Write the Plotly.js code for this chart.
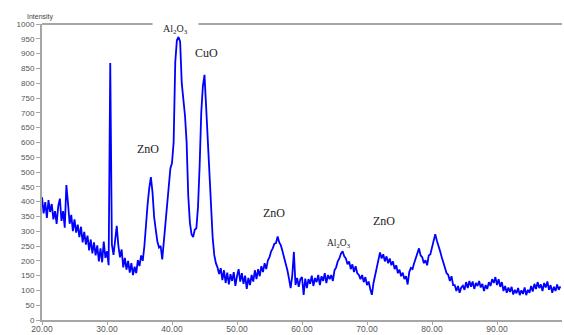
<!DOCTYPE html>
<html>
<head>
<meta charset="utf-8">
<script src="https://cdn.plot.ly/plotly-3.0.1.min.js"></script>
<style>html,body{margin:0;padding:0;background:#fff;}#chart{width:564px;height:335px;}</style>
</head>
<body>
<div id="chart"></div>
<script>
// 2-theta scan definition (degrees)
const twoThetaStart = 20.0;
const twoThetaStep = 0.25;

// Intensity, one row per 5 degrees (20 steps of 0.25)
const intensity = [
  // 20.00 - 24.75
  415, 360, 398, 345, 405, 365, 392, 340, 368, 325, 385, 410, 335, 368, 312, 456, 395, 325, 355, 300,
  // 25.00 - 29.75
  340, 295, 322, 280, 315, 262, 298, 255, 285, 235, 272, 225, 262, 218, 252, 198, 242, 195, 265, 210,
  // 30.00 - 34.75
  232, 185, 868, 255, 220, 275, 318, 250, 212, 238, 178, 210, 170, 200, 160, 192, 152, 180, 158, 202,
  // 35.00 - 39.75
  182, 218, 200, 250, 330, 392, 445, 483, 432, 348, 305, 265, 245, 250, 205, 262, 318, 382, 440, 512,
  // 40.00 - 44.75
  530, 600, 870, 945, 956, 940, 800, 740, 690, 600, 420, 330, 290, 280, 305, 310, 382, 520, 700, 790,
  // 45.00 - 49.75
  828, 720, 600, 480, 360, 280, 220, 192, 178, 155, 175, 135, 168, 125, 160, 120, 155, 132, 162, 115,
  // 50.00 - 54.75
  148, 172, 130, 158, 122, 150, 105, 142, 118, 152, 130, 168, 138, 172, 148, 182, 162, 192, 172, 202,
  // 55.00 - 59.75
  212, 232, 242, 258, 260, 282, 262, 252, 232, 212, 192, 168, 140, 108, 150, 230, 118, 142, 112, 138,
  // 60.00 - 64.75
  145, 85, 140, 108, 138, 122, 150, 115, 142, 128, 152, 118, 148, 132, 158, 125, 152, 138, 152, 132,
  // 65.00 - 69.75
  168, 178, 198, 208, 225, 232, 215, 208, 188, 198, 172, 188, 162, 182, 158, 152, 138, 152, 128, 145,
  // 70.00 - 74.75
  118, 130, 105, 85, 125, 150, 178, 192, 228, 208, 222, 198, 215, 192, 208, 185, 198, 172, 185, 158,
  // 75.00 - 79.75
  170, 148, 160, 138, 148, 120, 162, 176, 172, 192, 208, 222, 242, 218, 212, 192, 202, 185, 218, 222,
  // 80.00 - 84.75
  248, 262, 290, 268, 252, 232, 212, 192, 178, 158, 152, 132, 148, 118, 118, 98, 115, 92, 110, 116,
  // 85.00 - 89.75
  102, 128, 108, 132, 112, 130, 105, 125, 115, 132, 110, 122, 98, 118, 105, 128, 115, 138, 125, 145,
  // 90.00 - 94.75
  118, 138, 112, 128, 98, 115, 92, 110, 95, 112, 86, 102, 90, 108, 84, 100, 88, 110, 84, 102,
  // 95.00 - 99.75
  92, 115, 96, 122, 105, 128, 108, 120, 98, 125, 110, 130, 102, 118, 92, 112, 98, 120, 102, 114
];

const xTickValues = [20, 30, 40, 50, 60, 70, 80, 90];
const xTickLabels = ["20.00", "30.00", "40.00", "50.00", "60.00", "70.00", "80.00", "90.00"];

const peakLabels = ["Al<sub>2</sub>O<sub>3</sub>", "CuO", "ZnO", "ZnO", "Al<sub>2</sub>O<sub>3</sub>", "ZnO"];
const peakLabelX = [40.5, 45.3, 36.25, 55.7, 65.7, 72.6];
const peakLabelY = [980, 902, 578, 361, 260, 334];
const peakLabelSize = [10, 12, 12, 12, 9.5, 12];

const twoTheta = intensity.map((_, i) => twoThetaStart + i * twoThetaStep);

const trace = {
  x: twoTheta,
  y: intensity,
  type: 'scatter',
  mode: 'lines',
  line: {color: '#0000ff', width: 1.8},
  hoverinfo: 'skip'
};

const annotations = peakLabels.map((t, i) => ({
  x: peakLabelX[i], y: peakLabelY[i], xref: 'x', yref: 'y',
  text: t, showarrow: false,
  font: {family: 'Liberation Serif, Times New Roman, serif', size: peakLabelSize[i], color: '#222'}
}));
annotations.push({
  x: -0.033, y: 1.045, xref: 'paper', yref: 'paper', text: 'Intensity', showarrow: false,
  font: {family: 'Liberation Sans, Arial, sans-serif', size: 7, color: '#444'}
});

const axisGray = '#a6a6a6';
const layout = {
  width: 564, height: 335,
  margin: {l: 42, r: 2, t: 24, b: 15, pad: 0},
  paper_bgcolor: '#fff', plot_bgcolor: '#fff',
  showlegend: false,
  xaxis: {
    range: [20, 100], showgrid: false, zeroline: false,
    showline: true, linecolor: axisGray, linewidth: 2,
    ticks: 'outside', ticklen: 3, tickwidth: 1, tickcolor: axisGray,
    ticklabelstandoff: -3,
    tickvals: xTickValues, ticktext: xTickLabels,
    tickfont: {family: 'Liberation Sans, Arial, sans-serif', size: 8.5, color: '#555'}
  },
  yaxis: {
    range: [0, 1000], showgrid: false, zeroline: false,
    showline: true, linecolor: axisGray, linewidth: 2,
    ticks: 'outside', ticklen: 4, tickwidth: 1, tickcolor: axisGray,
    dtick: 50, tick0: 0,
    tickfont: {family: 'Liberation Sans, Arial, sans-serif', size: 8, color: '#555'}
  },
  shapes: [
    {type: 'line', xref: 'paper', yref: 'paper', x0: 0, x1: 0.2126, y0: 1, y1: 1, line: {color: axisGray, width: 2}},
    {type: 'line', xref: 'paper', yref: 'paper', x0: 0.3008, x1: 1, y0: 1, y1: 1, line: {color: axisGray, width: 2}}
  ],
  annotations: annotations
};

Plotly.newPlot('chart', [trace], layout, {staticPlot: true, displayModeBar: false});
</script>
</body>
</html>
